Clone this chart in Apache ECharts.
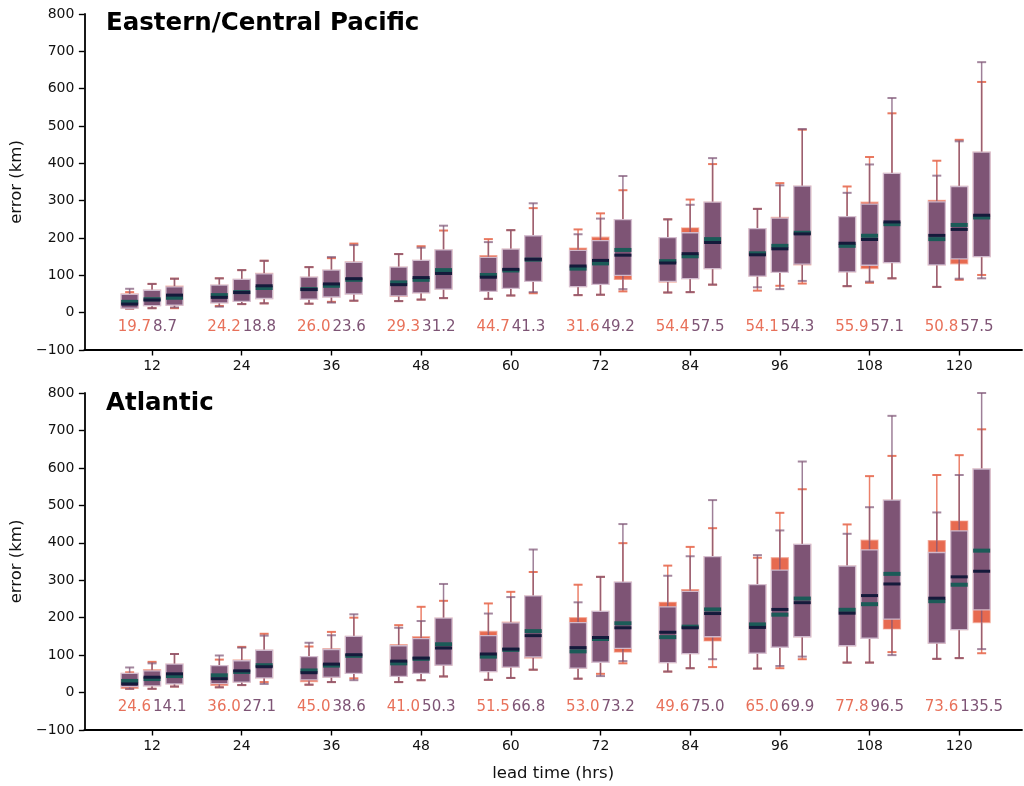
<!DOCTYPE html>
<html>
<head>
<meta charset="utf-8">
<title>Track error by lead time</title>
<script src="https://cdn.jsdelivr.net/npm/echarts@6/dist/echarts.min.js"></script>
<style>
  html, body { margin: 0; padding: 0; background: #ffffff; }
  #chart { width: 1024px; height: 786px; }
</style>
</head>
<body>
<div id="chart"></div>
<script>
// Forecast lead times (hours) and the three model slots drawn around each one
const leadTimes = [12, 24, 36, 48, 60, 72, 84, 96, 108, 120];
const slotOffsets = [-3, 0, 3];

// Box statistics per slot: [low whisker, Q1, median, Q3, high whisker] in km
const pacificOrange = [
  [11, 12, 29, 50, 55], [12, 19, 36, 60, 77], [12, 20, 40, 71, 91],
  [18, 26, 47, 74, 92], [23, 30, 55, 89, 114], [25, 38, 66, 105, 139],
  [24, 36, 63, 95, 122], [29, 42, 72, 114, 146], [32, 50, 88, 136, 185],
  [31, 44, 81, 122, 157], [35, 53, 88, 140, 178], [39, 63, 114, 168, 220],
  [37, 57, 101, 153, 197], [46, 65, 113, 170, 221], [52, 84, 142, 206, 280],
  [47, 70, 118, 173, 223], [48, 76, 132, 202, 266], [57, 89, 168, 249, 328],
  [54, 82, 138, 201, 250], [55, 91, 151, 227, 303], [75, 118, 197, 296, 398],
  [59, 98, 159, 225, 278], [72, 108, 179, 255, 347], [78, 128, 214, 339, 490],
  [71, 109, 179, 257, 338], [80, 118, 206, 296, 417], [92, 134, 237, 373, 534],
  [69, 128, 197, 301, 407], [88, 131, 235, 338, 463], [101, 150, 255, 430, 618]
];
const pacificPurple = [
  [11, 12, 23, 49, 64], [12, 19, 34, 60, 77], [14, 20, 47, 69, 91],
  [16, 26, 41, 74, 92], [23, 30, 54, 89, 114], [25, 38, 72, 104, 139],
  [24, 36, 62, 95, 122], [27, 42, 77, 114, 149], [32, 50, 91, 135, 181],
  [31, 45, 75, 122, 157], [35, 53, 94, 140, 174], [39, 63, 105, 168, 233],
  [37, 57, 95, 148, 189], [46, 65, 116, 170, 221], [55, 84, 143, 206, 293],
  [47, 70, 125, 167, 210], [48, 76, 140, 193, 252], [63, 100, 154, 249, 366],
  [54, 84, 133, 201, 250], [55, 91, 158, 214, 289], [75, 118, 188, 296, 414],
  [68, 98, 155, 225, 278], [63, 108, 171, 253, 341], [85, 130, 211, 339, 492],
  [71, 109, 186, 257, 321], [83, 127, 196, 291, 397], [92, 134, 243, 373, 575],
  [69, 128, 207, 297, 367], [91, 144, 223, 338, 459], [92, 150, 261, 430, 671]
];
const atlanticOrange = [
  [10, 11, 31, 51, 54], [10, 18, 36, 61, 82], [16, 23, 44, 76, 103],
  [14, 19, 46, 72, 88], [20, 28, 55, 87, 122], [28, 39, 73, 113, 157],
  [21, 29, 59, 96, 123], [28, 41, 72, 117, 162], [38, 51, 98, 150, 200],
  [28, 43, 78, 128, 180], [33, 51, 90, 149, 229], [43, 73, 129, 199, 245],
  [34, 56, 96, 163, 238], [39, 68, 114, 188, 269], [61, 92, 164, 258, 322],
  [37, 65, 110, 200, 288], [50, 81, 143, 217, 309], [78, 108, 185, 295, 399],
  [56, 80, 148, 241, 339], [65, 104, 176, 275, 389], [68, 138, 222, 363, 439],
  [64, 105, 182, 288, 360], [65, 121, 208, 360, 480], [89, 149, 251, 396, 543],
  [80, 125, 221, 338, 449], [80, 145, 236, 407, 578], [108, 170, 317, 514, 632],
  [90, 132, 244, 406, 581], [92, 168, 288, 458, 634], [105, 187, 379, 597, 703]
];
const atlanticPurple = [
  [10, 16, 23, 51, 67], [10, 18, 41, 58, 78], [16, 23, 50, 76, 103],
  [14, 24, 37, 72, 99], [20, 28, 58, 85, 120], [23, 39, 69, 113, 152],
  [21, 34, 53, 96, 133], [28, 41, 76, 115, 153], [33, 51, 101, 150, 209],
  [28, 43, 84, 125, 173], [33, 51, 92, 144, 191], [43, 73, 119, 199, 290],
  [34, 56, 103, 152, 211], [39, 68, 116, 186, 255], [61, 95, 152, 258, 382],
  [37, 65, 120, 187, 241], [44, 81, 147, 217, 309], [84, 118, 173, 295, 450],
  [56, 80, 161, 229, 312], [65, 104, 173, 270, 364], [89, 149, 211, 363, 514],
  [64, 105, 174, 288, 367], [71, 121, 222, 327, 433], [96, 149, 240, 396, 617],
  [80, 125, 212, 338, 424], [80, 145, 259, 381, 495], [100, 196, 290, 514, 739],
  [90, 132, 252, 374, 481], [92, 168, 309, 432, 581], [116, 221, 324, 597, 800]
];

// Summary numbers printed under each lead time
const pacificOrangeNotes = [19.7, 24.2, 26.0, 29.3, 44.7, 31.6, 54.4, 54.1, 55.9, 50.8];
const pacificPurpleNotes = [8.7, 18.8, 23.6, 31.2, 41.3, 49.2, 57.5, 54.3, 57.1, 57.5];
const atlanticOrangeNotes = [24.6, 36.0, 45.0, 41.0, 51.5, 53.0, 49.6, 65.0, 77.8, 73.6];
const atlanticPurpleNotes = [14.1, 27.1, 38.6, 50.3, 66.8, 73.2, 75.0, 69.9, 96.5, 135.5];

const panelTitles = ['Eastern/Central Pacific', 'Atlantic'];
const noteLevel = -38;

const ORANGE = '#e76a50';
const PURPLE = '#7e5475';
const TEAL = '#1b5b58';
const NAVY = '#151a3b';
const FONT = "'DejaVu Sans', sans-serif";

function slotRows(rows) {
  return rows.map((r, i) => [leadTimes[Math.floor(i / 3)] + slotOffsets[i % 3]].concat(r));
}

function boxRenderer(fill, edge, whisker, cap) {
  return function (params, api) {
    const x = api.value(0);
    const cx = api.coord([x, 0])[0];
    const yLow = api.coord([x, api.value(1)])[1];
    const yQ1 = api.coord([x, api.value(2)])[1];
    const yQ3 = api.coord([x, api.value(4)])[1];
    const yHigh = api.coord([x, api.value(5)])[1];
    const hw = 8.5, cw = 4.5;
    return {
      type: 'group',
      children: [
        { type: 'line', shape: { x1: cx, y1: yQ3, x2: cx, y2: yHigh }, style: { stroke: whisker, lineWidth: 1.5 } },
        { type: 'line', shape: { x1: cx, y1: yQ1, x2: cx, y2: yLow }, style: { stroke: whisker, lineWidth: 1.5 } },
        { type: 'line', shape: { x1: cx - cw, y1: yHigh, x2: cx + cw, y2: yHigh }, style: { stroke: cap, lineWidth: 2 } },
        { type: 'line', shape: { x1: cx - cw, y1: yLow, x2: cx + cw, y2: yLow }, style: { stroke: cap, lineWidth: 2 } },
        { type: 'rect', shape: { x: cx - hw, y: yQ3, width: 2 * hw, height: yQ1 - yQ3 },
          style: { fill: fill, stroke: edge, lineWidth: 1.3 } }
      ]
    };
  };
}

function medianRenderer(color, width) {
  return function (params, api) {
    const x = api.value(0);
    const p = api.coord([x, api.value(3)]);
    return {
      type: 'line',
      shape: { x1: p[0] - 8.5, y1: p[1], x2: p[0] + 8.5, y2: p[1] },
      style: { stroke: color, lineWidth: width }
    };
  };
}

function noteRenderer(color, align) {
  return function (params, api) {
    const p = api.coord([api.value(0), noteLevel]);
    return {
      type: 'text',
      style: {
        text: api.value(1).toFixed(1),
        x: align === 'right' ? p[0] - 1 : p[0] + 1,
        y: p[1],
        align: align,
        verticalAlign: 'middle',
        fill: color,
        font: '15px ' + FONT
      }
    };
  };
}

function panelSeries(idx, orangeRows, purpleRows, orangeNotes, purpleNotes) {
  const enc = { x: 0, y: [1, 2, 3, 4, 5] };
  const base = { type: 'custom', xAxisIndex: idx, yAxisIndex: idx, encode: enc, clip: false, silent: true };
  return [
    Object.assign({}, base, { z: 2, data: slotRows(orangeRows),
      renderItem: boxRenderer(ORANGE, 'rgba(240,150,130,0.6)', 'rgba(231,106,80,0.85)', 'rgba(231,106,80,0.9)') }),
    Object.assign({}, base, { z: 3, data: slotRows(purpleRows),
      renderItem: boxRenderer(PURPLE, 'rgba(215,200,220,0.85)', 'rgba(126,84,117,0.75)', 'rgba(126,84,117,0.7)') }),
    Object.assign({}, base, { z: 4, data: slotRows(orangeRows), renderItem: medianRenderer(TEAL, 4) }),
    Object.assign({}, base, { z: 5, data: slotRows(purpleRows), renderItem: medianRenderer(NAVY, 3) }),
    { type: 'custom', xAxisIndex: idx, yAxisIndex: idx, z: 6, silent: true, clip: false,
      encode: { x: 0 }, data: leadTimes.map((t, i) => [t, orangeNotes[i]]),
      renderItem: noteRenderer('#e8715a', 'right') },
    { type: 'custom', xAxisIndex: idx, yAxisIndex: idx, z: 6, silent: true, clip: false,
      encode: { x: 0 }, data: leadTimes.map((t, i) => [t, purpleNotes[i]]),
      renderItem: noteRenderer(PURPLE, 'left') }
  ];
}

function xAxisFor(idx) {
  const ax = {
    type: 'value', gridIndex: idx, min: 2.94, max: 128.4,
    axisLine: { onZero: false, lineStyle: { color: '#000', width: 1.8 } },
    axisTick: { customValues: leadTimes, length: 5.5, lineStyle: { color: '#000', width: 1.4 } },
    axisLabel: { customValues: leadTimes, color: '#111', fontSize: 14, fontFamily: FONT, margin: 9 },
    splitLine: { show: false }
  };
  if (idx === 1) {
    ax.name = 'lead time (hrs)';
    ax.nameLocation = 'middle';
    ax.nameGap = 35;
    ax.nameTextStyle = { color: '#111', fontSize: 16.5, fontFamily: FONT };
  }
  return ax;
}

function yAxisFor(idx) {
  return {
    type: 'value', gridIndex: idx, min: -100, max: 800, interval: 100,
    name: 'error (km)', nameLocation: 'middle', nameGap: 55,
    nameTextStyle: { color: '#111', fontSize: 16.5, fontFamily: FONT },
    axisLine: { show: true, onZero: false, lineStyle: { color: '#000', width: 1.8 } },
    axisTick: { show: true, length: 5.5, lineStyle: { color: '#000', width: 1.4 } },
    axisLabel: { color: '#111', fontSize: 14, fontFamily: FONT, margin: 10,
      formatter: v => (v < 0 ? '\u2212' + Math.abs(v) : String(v)) },
    splitLine: { show: false }
  };
}

const chart = echarts.init(document.getElementById('chart'), null, { renderer: 'canvas' });
chart.setOption({
  animation: false,
  backgroundColor: '#ffffff',
  title: [
    { text: panelTitles[0], left: 101, top: 6,
      textStyle: { fontSize: 24.5, fontWeight: 'bold', fontFamily: FONT, color: '#000' } },
    { text: panelTitles[1], left: 101, top: 386,
      textStyle: { fontSize: 24.5, fontWeight: 'bold', fontFamily: FONT, color: '#000' } }
  ],
  grid: [
    { left: 83, right: 2, top: 14, height: 336 },
    { left: 83, right: 2, top: 393, height: 337 }
  ],
  xAxis: [xAxisFor(0), xAxisFor(1)],
  yAxis: [yAxisFor(0), yAxisFor(1)],
  series: panelSeries(0, pacificOrange, pacificPurple, pacificOrangeNotes, pacificPurpleNotes)
    .concat(panelSeries(1, atlanticOrange, atlanticPurple, atlanticOrangeNotes, atlanticPurpleNotes))
});
</script>
</body>
</html>
